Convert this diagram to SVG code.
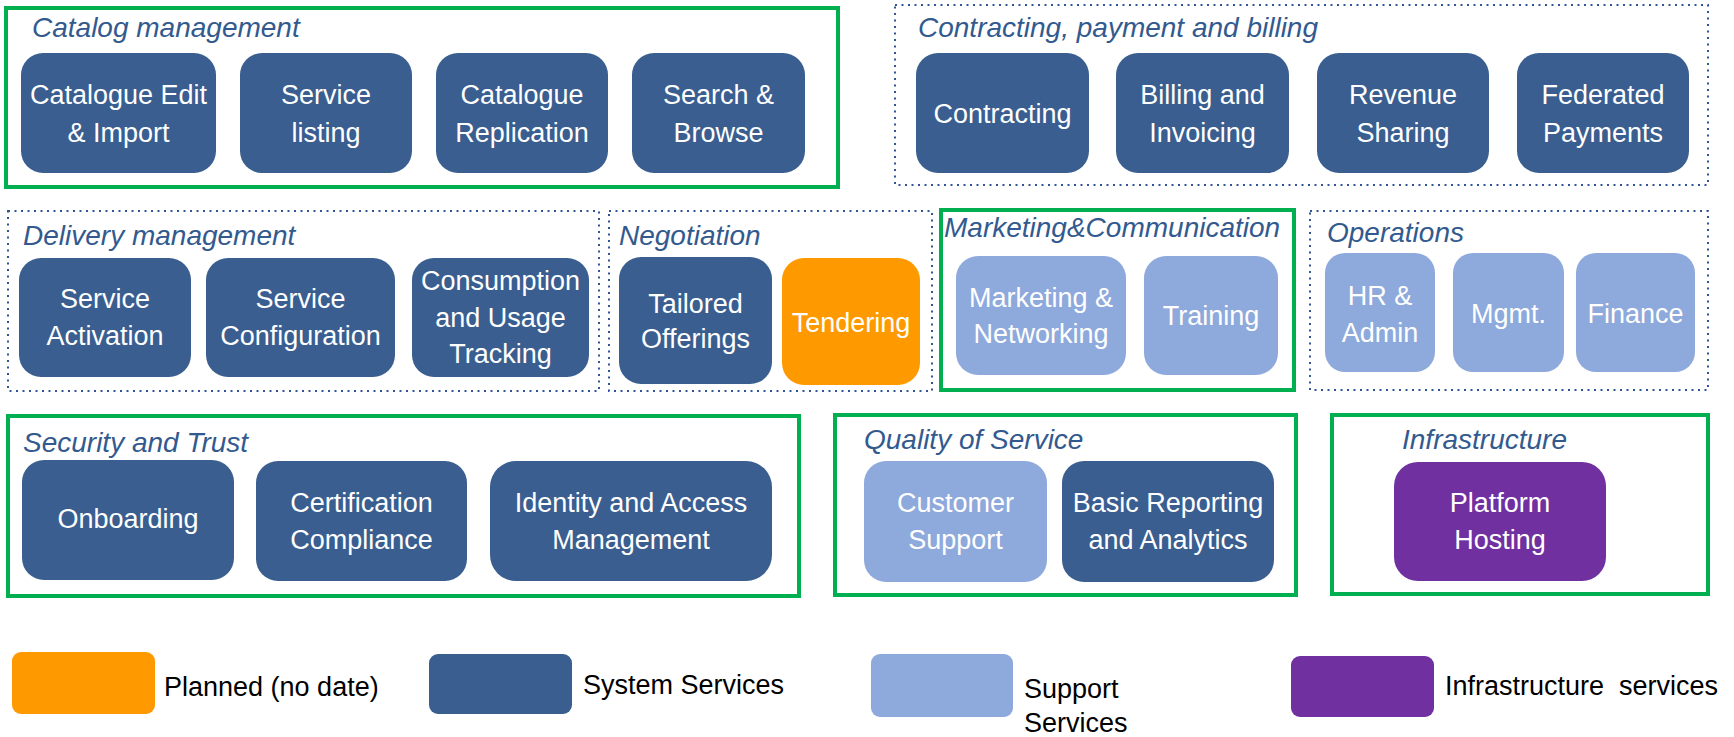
<svg xmlns="http://www.w3.org/2000/svg" width="1734" height="737" viewBox="0 0 1734 737">
<style>
.sys{fill:#395E8F}
.sup{fill:#8EA9DB}
.plan{fill:#FF9900}
.infra{fill:#7030A0}
.green{fill:none;stroke:#00B050;stroke-width:4}
.dot{fill:none;stroke:#2F5597;stroke-width:2;stroke-dasharray:2 4.5}
.title{font-family:"Liberation Sans",Arial,sans-serif;font-style:italic;font-size:28px;fill:#335A8E}
.nt{font-family:"Liberation Sans",Arial,sans-serif;font-size:27px;fill:#FFFFFF;text-anchor:middle}
.lg{font-family:"Liberation Sans",Arial,sans-serif;font-size:27px;fill:#000000;white-space:pre}
</style>
<rect width="1734" height="737" fill="#FFFFFF"/>

<!-- Catalog management -->
<g id="catalog">
<rect class="green" x="6" y="8" width="832" height="179"/>
<text class="title" x="32" y="37">Catalog management</text>
<g id="cat-edit"><rect class="sys" x="21" y="53" width="195" height="120" rx="22"/><text class="nt" x="118.5" y="104">Catalogue Edit</text><text class="nt" x="118.5" y="142">&amp; Import</text></g>
<g id="cat-listing"><rect class="sys" x="240" y="53" width="172" height="120" rx="22"/><text class="nt" x="326" y="104">Service</text><text class="nt" x="326" y="142">listing</text></g>
<g id="cat-replication"><rect class="sys" x="436" y="53" width="172" height="120" rx="22"/><text class="nt" x="522" y="104">Catalogue</text><text class="nt" x="522" y="142">Replication</text></g>
<g id="cat-search"><rect class="sys" x="632" y="53" width="173" height="120" rx="22"/><text class="nt" x="718.5" y="104">Search &amp;</text><text class="nt" x="718.5" y="142">Browse</text></g>
</g>

<!-- Contracting -->
<g id="contracting">
<rect class="dot" x="895" y="5" width="813" height="180"/>
<text class="title" x="918" y="37">Contracting, payment and billing</text>
<g id="con-contracting"><rect class="sys" x="916" y="53" width="173" height="120" rx="22"/><text class="nt" x="1002.5" y="123">Contracting</text></g>
<g id="con-billing"><rect class="sys" x="1116" y="53" width="173" height="120" rx="22"/><text class="nt" x="1202.5" y="104">Billing and</text><text class="nt" x="1202.5" y="142">Invoicing</text></g>
<g id="con-revenue"><rect class="sys" x="1317" y="53" width="172" height="120" rx="22"/><text class="nt" x="1403" y="104">Revenue</text><text class="nt" x="1403" y="142">Sharing</text></g>
<g id="con-federated"><rect class="sys" x="1517" y="53" width="172" height="120" rx="22"/><text class="nt" x="1603" y="104">Federated</text><text class="nt" x="1603" y="142">Payments</text></g>
</g>

<!-- Delivery management -->
<g id="delivery">
<rect class="dot" x="8" y="211" width="591" height="180"/>
<text class="title" x="23" y="245">Delivery management</text>
<g id="del-activation"><rect class="sys" x="19" y="258" width="172" height="119" rx="22"/><text class="nt" x="105" y="308">Service</text><text class="nt" x="105" y="345">Activation</text></g>
<g id="del-configuration"><rect class="sys" x="206" y="258" width="189" height="119" rx="22"/><text class="nt" x="300.5" y="308">Service</text><text class="nt" x="300.5" y="345">Configuration</text></g>
<g id="del-consumption"><rect class="sys" x="412" y="258" width="177" height="119" rx="22"/><text class="nt" x="500.5" y="290">Consumption</text><text class="nt" x="500.5" y="327">and Usage</text><text class="nt" x="500.5" y="363">Tracking</text></g>
</g>

<!-- Negotiation -->
<g id="negotiation">
<rect class="dot" x="609" y="211" width="323" height="180"/>
<text class="title" x="619" y="245">Negotiation</text>
<g id="neg-tailored"><rect class="sys" x="619" y="257" width="153" height="127" rx="22"/><text class="nt" x="695.5" y="313">Tailored</text><text class="nt" x="695.5" y="348">Offerings</text></g>
<g id="neg-tendering"><rect class="plan" x="782" y="258" width="138" height="127" rx="22"/><text class="nt" x="851" y="332">Tendering</text></g>
</g>

<!-- Marketing & Communication -->
<g id="marketing">
<rect class="green" x="941" y="210" width="353" height="180"/>
<text class="title" x="944" y="237">Marketing&amp;Communication</text>
<g id="mkt-networking"><rect class="sup" x="956" y="256" width="170" height="119" rx="22"/><text class="nt" x="1041" y="307">Marketing &amp;</text><text class="nt" x="1041" y="343">Networking</text></g>
<g id="mkt-training"><rect class="sup" x="1144" y="256" width="134" height="119" rx="22"/><text class="nt" x="1211" y="325">Training</text></g>
</g>

<!-- Operations -->
<g id="operations">
<rect class="dot" x="1310" y="211" width="398" height="179"/>
<text class="title" x="1327" y="242">Operations</text>
<g id="ops-hr"><rect class="sup" x="1325" y="253" width="110" height="119" rx="20"/><text class="nt" x="1380" y="305">HR &amp;</text><text class="nt" x="1380" y="342">Admin</text></g>
<g id="ops-mgmt"><rect class="sup" x="1453" y="253" width="111" height="119" rx="20"/><text class="nt" x="1508.5" y="323">Mgmt.</text></g>
<g id="ops-finance"><rect class="sup" x="1576" y="253" width="119" height="119" rx="20"/><text class="nt" x="1635.5" y="323">Finance</text></g>
</g>

<!-- Security and Trust -->
<g id="security">
<rect class="green" x="8" y="416" width="791" height="180"/>
<text class="title" x="23" y="452">Security and Trust</text>
<g id="sec-onboarding"><rect class="sys" x="22" y="460" width="212" height="120" rx="22"/><text class="nt" x="128" y="528">Onboarding</text></g>
<g id="sec-certification"><rect class="sys" x="256" y="461" width="211" height="120" rx="22"/><text class="nt" x="361.5" y="512">Certification</text><text class="nt" x="361.5" y="549">Compliance</text></g>
<g id="sec-identity"><rect class="sys" x="490" y="461" width="282" height="120" rx="26"/><text class="nt" x="631" y="512">Identity and Access</text><text class="nt" x="631" y="549">Management</text></g>
</g>

<!-- Quality of Service -->
<g id="qos">
<rect class="green" x="835" y="415" width="461" height="180"/>
<text class="title" x="864" y="449">Quality of Service</text>
<g id="qos-support"><rect class="sup" x="864" y="461" width="183" height="121" rx="22"/><text class="nt" x="955.5" y="512">Customer</text><text class="nt" x="955.5" y="549">Support</text></g>
<g id="qos-reporting"><rect class="sys" x="1062" y="461" width="212" height="121" rx="22"/><text class="nt" x="1168" y="512">Basic Reporting</text><text class="nt" x="1168" y="549">and Analytics</text></g>
</g>

<!-- Infrastructure -->
<g id="infrastructure">
<rect class="green" x="1332" y="415" width="376" height="179"/>
<text class="title" x="1402" y="449">Infrastructure</text>
<g id="inf-hosting"><rect class="infra" x="1394" y="462" width="212" height="119" rx="24"/><text class="nt" x="1500" y="512">Platform</text><text class="nt" x="1500" y="549">Hosting</text></g>
</g>

<!-- Legend -->
<g id="legend">
<g id="lg-planned"><rect class="plan" x="12" y="652" width="143" height="62" rx="9"/><text class="lg" x="164" y="696">Planned (no date)</text></g>
<g id="lg-system"><rect class="sys" x="429" y="654" width="143" height="60" rx="9"/><text class="lg" x="583" y="694">System Services</text></g>
<g id="lg-support"><rect class="sup" x="871" y="654" width="142" height="63" rx="9"/><text class="lg" x="1024" y="698">Support</text><text class="lg" x="1024" y="732">Services</text></g>
<g id="lg-infra"><rect class="infra" x="1291" y="656" width="143" height="61" rx="9"/><text class="lg" x="1445" y="695">Infrastructure  services</text></g>
</g>
</svg>
